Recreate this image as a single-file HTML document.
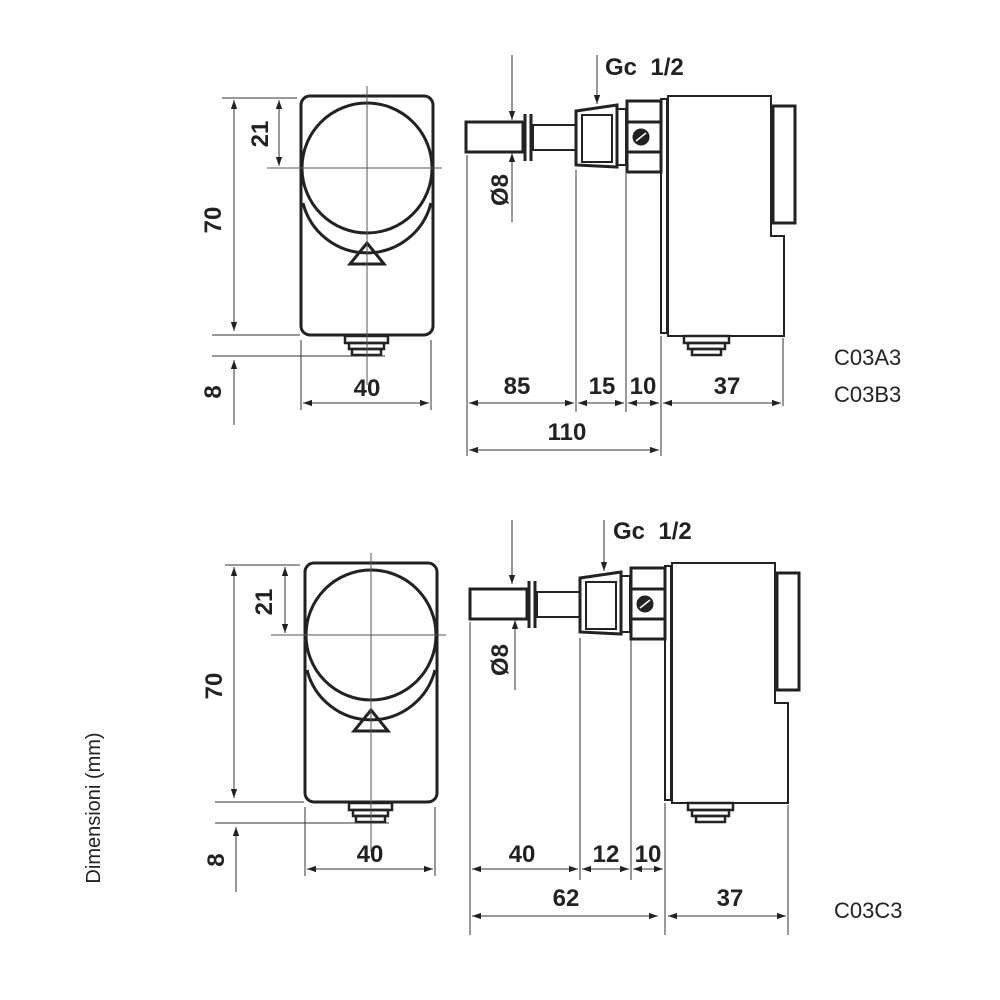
<!DOCTYPE html>
<html><head><meta charset="utf-8"><style>
html,body{margin:0;padding:0;background:#fff}
svg{display:block}
text{font-family:"Liberation Sans",sans-serif;fill:#222;white-space:pre}
.b{font-weight:bold;font-size:24px}
</style></head><body>
<svg width="1000" height="1000" viewBox="0 0 1000 1000" xmlns="http://www.w3.org/2000/svg">
<defs>
<marker id="a" viewBox="0 0 10 10" refX="10" refY="5" markerWidth="9" markerHeight="9" orient="auto-start-reverse" markerUnits="userSpaceOnUse"><path d="M0,1.5 L10,5 L0,8.5 z" fill="#222"/></marker>
<g id="front">
<rect x="301" y="96" width="132" height="239" rx="9" fill="none" stroke="#222" stroke-width="3"/>
<circle cx="367" cy="168" r="65" fill="none" stroke="#222" stroke-width="3"/>
<path d="M303,203 A66,66 0 0 0 431,203" fill="none" stroke="#222" stroke-width="3"/>
<path d="M367,243 L384,264 L350,264 Z" fill="none" stroke="#222" stroke-width="3"/>
<rect x="345" y="336" width="43" height="7" fill="none" stroke="#222" stroke-width="2.5"/>
<rect x="349" y="343" width="35" height="6" fill="none" stroke="#222" stroke-width="2.5"/>
<rect x="352" y="349" width="29" height="6" fill="none" stroke="#222" stroke-width="2.5"/>
<line x1="367" y1="86" x2="367" y2="385" stroke="#555" stroke-width="1"/>
<line x1="267" y1="168" x2="442" y2="168" stroke="#555" stroke-width="1"/>
</g>
<g id="side" fill="none" stroke="#222" stroke-width="3">
<rect x="466" y="122" width="57" height="30"/>
<line x1="525" y1="114" x2="525" y2="161"/>
<line x1="531" y1="114" x2="531" y2="161"/>
<rect x="533" y="125" width="43" height="25" stroke-width="2"/>
<path d="M576,111 L617,105 L617,167 L576,165 Z"/>
<rect x="582" y="115" width="30" height="47" stroke-width="2"/>
<rect x="617" y="109" width="9" height="56" stroke-width="2"/>
<rect x="627" y="101" width="34" height="71"/>
<line x1="627" y1="122" x2="661" y2="122"/>
<line x1="627" y1="152" x2="661" y2="152"/>
<circle cx="641" cy="137" r="7" fill="#222"/>
<line x1="636" y1="141" x2="646" y2="133" stroke="#fff" stroke-width="1.5"/>
<rect x="661" y="99" width="6" height="234" stroke-width="2"/>
<path d="M668,96 L771,96 L771,236 L784,236 L784,336 L668,336 Z" stroke-width="2"/>
<rect x="773" y="106" width="22" height="117"/>
<rect x="684" y="336" width="45" height="7" stroke-width="2.5"/>
<rect x="688" y="343" width="37" height="6" stroke-width="2.5"/>
<rect x="692" y="349" width="29" height="6" stroke-width="2.5"/>
</g>
</defs>

<use href="#front"/>
<use href="#side"/>
<g transform="translate(4,467)"><use href="#front"/><use href="#side"/></g>

<g stroke="#333" stroke-width="1" fill="none">
<line x1="222" y1="98" x2="297" y2="98"/>
<line x1="212" y1="335" x2="300" y2="335"/>
<line x1="212" y1="356" x2="385" y2="356"/>
<line x1="234" y1="100" x2="234" y2="331" marker-start="url(#a)" marker-end="url(#a)"/>
<line x1="279" y1="100" x2="279" y2="166" marker-start="url(#a)" marker-end="url(#a)"/>
<line x1="234" y1="425" x2="234" y2="360" marker-end="url(#a)"/>
<line x1="301" y1="340" x2="301" y2="410"/>
<line x1="431" y1="340" x2="431" y2="410"/>
<line x1="303" y1="403" x2="429" y2="403" marker-start="url(#a)" marker-end="url(#a)"/>
<line x1="512" y1="55" x2="512" y2="120" marker-end="url(#a)"/>
<line x1="512" y1="222" x2="512" y2="153" marker-end="url(#a)"/>
<line x1="597" y1="55" x2="597" y2="104" marker-end="url(#a)"/>
<line x1="467" y1="155" x2="467" y2="456"/>
<line x1="576" y1="170" x2="576" y2="412"/>
<line x1="626" y1="174" x2="626" y2="412"/>
<line x1="661" y1="336" x2="661" y2="456"/>
<line x1="783" y1="338" x2="783" y2="406"/>
<line x1="469" y1="403" x2="574" y2="403" marker-start="url(#a)" marker-end="url(#a)"/>
<line x1="578" y1="403" x2="624" y2="403" marker-start="url(#a)" marker-end="url(#a)"/>
<line x1="628" y1="403" x2="659" y2="403" marker-start="url(#a)" marker-end="url(#a)"/>
<line x1="663" y1="403" x2="781" y2="403" marker-start="url(#a)" marker-end="url(#a)"/>
<line x1="469" y1="450" x2="659" y2="450" marker-start="url(#a)" marker-end="url(#a)"/>
<line x1="225" y1="565" x2="300" y2="565"/>
<line x1="215" y1="802" x2="304" y2="802"/>
<line x1="215" y1="823" x2="389" y2="823"/>
<line x1="234" y1="567" x2="234" y2="798" marker-start="url(#a)" marker-end="url(#a)"/>
<line x1="285" y1="567" x2="285" y2="633" marker-start="url(#a)" marker-end="url(#a)"/>
<line x1="236" y1="892" x2="236" y2="827" marker-end="url(#a)"/>
<line x1="305" y1="807" x2="305" y2="876"/>
<line x1="435" y1="807" x2="435" y2="876"/>
<line x1="307" y1="869" x2="433" y2="869" marker-start="url(#a)" marker-end="url(#a)"/>
<line x1="512" y1="520" x2="512" y2="584" marker-end="url(#a)"/>
<line x1="515" y1="690" x2="515" y2="620" marker-end="url(#a)"/>
<line x1="604" y1="520" x2="604" y2="571" marker-end="url(#a)"/>
<line x1="470" y1="622" x2="470" y2="935"/>
<line x1="580" y1="638" x2="580" y2="880"/>
<line x1="631" y1="640" x2="631" y2="880"/>
<line x1="665" y1="803" x2="665" y2="935"/>
<line x1="788" y1="805" x2="788" y2="935"/>
<line x1="472" y1="869" x2="578" y2="869" marker-start="url(#a)" marker-end="url(#a)"/>
<line x1="582" y1="869" x2="629" y2="869" marker-start="url(#a)" marker-end="url(#a)"/>
<line x1="633" y1="869" x2="663" y2="869" marker-start="url(#a)" marker-end="url(#a)"/>
<line x1="472" y1="916" x2="658" y2="916" marker-start="url(#a)" marker-end="url(#a)"/>
<line x1="668" y1="916" x2="786" y2="916" marker-start="url(#a)" marker-end="url(#a)"/>
</g>

<g text-anchor="middle">
<text class="b" x="0" y="0" transform="translate(221,220) rotate(-90)">70</text>
<text class="b" x="0" y="0" transform="translate(268,134) rotate(-90)">21</text>
<text class="b" x="0" y="0" transform="translate(221,392) rotate(-90)">8</text>
<text class="b" x="367" y="396">40</text>
<text class="b" x="0" y="0" transform="translate(508,190) rotate(-90)">Ø8</text>
<text class="b" x="517" y="394">85</text>
<text class="b" x="602" y="394">15</text>
<text class="b" x="643" y="394">10</text>
<text class="b" x="727" y="394">37</text>
<text class="b" x="567" y="440">110</text>
<text class="b" x="222" y="686" transform="rotate(-90 222 686)">70</text>
<text class="b" x="272" y="602" transform="rotate(-90 272 602)">21</text>
<text class="b" x="224" y="860" transform="rotate(-90 224 860)">8</text>
<text class="b" x="370" y="862">40</text>
<text class="b" x="508" y="660" transform="rotate(-90 508 660)">Ø8</text>
<text class="b" x="522" y="862">40</text>
<text class="b" x="606" y="862">12</text>
<text class="b" x="648" y="862">10</text>
<text class="b" x="566" y="906">62</text>
<text class="b" x="730" y="906">37</text>
</g>
<text class="b" x="605" y="75" xml:space="preserve">Gc  1/2</text>
<text class="b" x="613" y="539" xml:space="preserve">Gc  1/2</text>
<text x="834" y="365" font-size="22">C03A3</text>
<text x="834" y="402" font-size="22">C03B3</text>
<text x="834" y="918" font-size="22">C03C3</text>
<text x="0" y="0" font-size="20" text-anchor="middle" transform="translate(100,808) rotate(-90)">Dimensioni (mm)</text>
</svg>
</body></html>
